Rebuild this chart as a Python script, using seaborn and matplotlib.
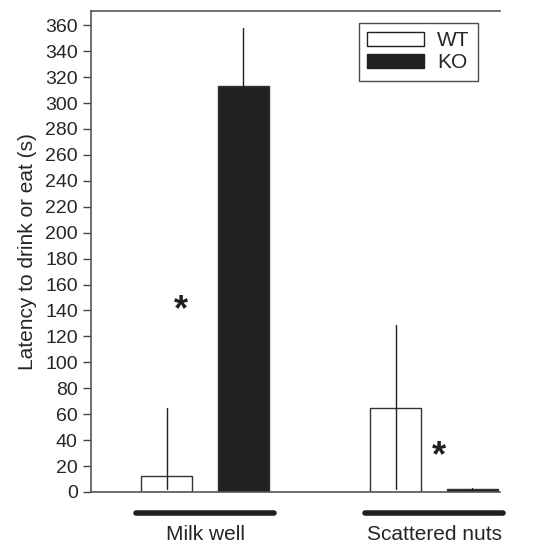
import numpy as np
import pandas as pd
import matplotlib
matplotlib.use('Agg')
import matplotlib.pyplot as plt
import seaborn as sns

sns.set_style('ticks')
plt.rcParams['font.family'] = ['Liberation Sans', 'DejaVu Sans']

# data
tasks = ['Milk well', 'Scattered nuts']
genotypes = ['WT', 'KO']
wt_mean = [12, 65]
ko_mean = [313, 2]
wt_err = [53, 64]
ko_err = [45, 1]
star_x = [-0.105, 1.02]
star_y = [140, 27]

df = pd.DataFrame({
    'task': tasks * 2,
    'genotype': ['WT'] * 2 + ['KO'] * 2,
    'latency': wt_mean + ko_mean,
    'err': wt_err + ko_err,
})

fig = plt.figure(figsize=(5.44, 5.44), dpi=100)
ax = fig.add_axes([91 / 544, 1 - 492 / 544, 409 / 544, 481 / 544])

sns.barplot(
    data=df, x='task', y='latency', hue='genotype',
    order=tasks, hue_order=genotypes,
    palette={'WT': 'white', 'KO': '#231f20'},
    width=0.668, gap=0.33, errorbar=None,
    edgecolor='#333333', linewidth=1.0, ax=ax
)

# error bars (no caps, lower end stops near zero)
for patch, (_, row) in zip(ax.patches, df.iterrows()):
    cx = patch.get_x() + patch.get_width() / 2
    lo = max(row['latency'] - row['err'], 2)
    hi = row['latency'] + row['err']
    ax.plot([cx, cx], [lo, hi], color='#231f20', lw=1.0, zorder=5)

for x, y in zip(star_x, star_y):
    ax.text(x, y, '*', fontsize=26, fontweight='bold', ha='center', va='center',
            color='#231f20')

# thick bars under the group labels
trans = ax.get_xaxis_transform()
for i in range(len(tasks)):
    ax.plot([i - 0.3, i + 0.3], [-0.044, -0.044], transform=trans,
            color='#231f20', lw=4, solid_capstyle='round', clip_on=False)

ax.set_xlim(-0.498, 1.288)
ax.set_ylim(0, 371)
ax.set_yticks(np.arange(0, 361, 20))
ax.tick_params(axis='y', labelsize=14, length=6, width=1, color='#444444')
ax.tick_params(axis='x', length=0, labelsize=15, pad=24)
ax.set_xlabel('')
ax.set_ylabel('Latency to drink or eat (s)', fontsize=15, labelpad=6)
for s in ['left', 'bottom', 'top']:
    ax.spines[s].set_color('#555555')
    ax.spines[s].set_linewidth(1.2)
ax.spines['right'].set_visible(False)

leg = ax.legend(loc='upper right', bbox_to_anchor=(0.946, 0.975), fontsize=15,
                frameon=True, fancybox=False, edgecolor='#231f20',
                handlelength=2.7, handleheight=0.63, borderpad=0.4,
                labelspacing=0.15, handletextpad=0.65, borderaxespad=0)
leg.get_frame().set_linewidth(1.0)
for h in leg.legend_handles:
    h.set_edgecolor('#231f20')

fig.savefig('out.png', dpi=100)
